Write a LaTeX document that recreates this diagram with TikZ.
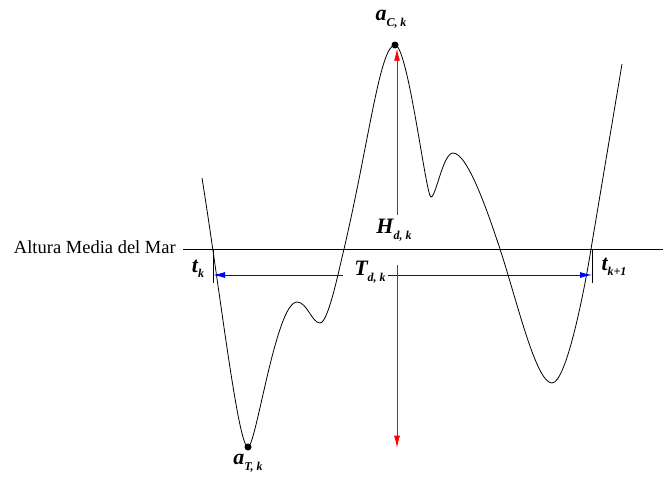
\documentclass[tikz,border=0pt]{standalone}
\usepackage{fontspec}
\setmainfont{Liberation Serif}
\usetikzlibrary{arrows.meta, positioning}
\tikzset{
  wave/.style    = {draw=black, line width=0.8pt},
  mslline/.style = {draw=black, line width=0.8pt},
  tickln/.style  = {draw=black, line width=0.8pt},
  spanarr/.style = {draw=blue, line width=0.8pt,
                     -{Latex[length=12pt, width=6pt]}},
  hgtarr/.style  = {draw=red, line width=0.8pt,
                     -{Latex[length=12pt, width=6pt]}},
  extdot/.style  = {circle, fill=black, inner sep=0pt, minimum size=7pt},
  wavelbl/.style = {inner sep=1pt, font=\bfseries\itshape},
  msltxt/.style  = {inner sep=1pt, font=\fontsize{18.5}{20}\selectfont},
}
\newcommand{\wvar}[2]{{\fontsize{22}{22}\selectfont #1}\raisebox{-5.5pt}{\fontsize{12}{12}\selectfont #2}}

\begin{document}
\begin{tikzpicture}[x=1pt, y=-1pt]
  \useasboundingbox (0,0) rectangle (663,477);
  % mean sea level
  \node[msltxt, anchor=east] (msl) at (177,247) {Altura Media del Mar};
  \coordinate (mslL) at (183,249);
  \coordinate (mslR) at (663,249);
  \draw[mslline] (mslL) -- (mslR);
  % surface elevation
  \draw[wave] (202,178) .. controls (220,290) and (238,447) .. (248,447)
    .. controls (256,447) and (276,302) .. (297,302)
    .. controls (307,302) and (312,323) .. (320,323)
    .. controls (328,323) and (338,274) .. (344,249)
    .. controls (369,142) and (380,45) .. (395,45)
    .. controls (408,45) and (426,197) .. (431,197)
    .. controls (436,197) and (443,153) .. (453,153)
    .. controls (468,153) and (489,216) .. (500,249)
    .. controls (517,301) and (536,383) .. (552,383)
    .. controls (566,383) and (584,293) .. (591,249)
    -- (622,64);
  % zero crossings
  \coordinate (tkA) at (213,249);
  \coordinate (tkB) at (213,283);
  \coordinate (tlA) at (592,249);
  \coordinate (tlB) at (592,283);
  \draw[tickln] (tkA) -- (tkB);
  \draw[tickln] (tlA) -- (tlB);
  % crest and trough
  \node[extdot] (crest) at (395,45) {};
  \node[extdot] (trough) at (248,447) {};
  % labels
  \node[wavelbl] (aC) at (391,19) {\wvar{a}{C, k}};
  \node[wavelbl] (aT) at (248,463) {\wvar{a}{T, k}};
  \node[wavelbl] (Hd) at (394,230) {\wvar{H}{d, k}};
  \node[wavelbl] (Td) at (370,272) {\wvar{T}{d, k}};
  \node[wavelbl] (tk) at (198,269) {\wvar{t}{k}};
  \node[wavelbl] (tl) at (614,267) {\wvar{t}{k+1}};
  % period
  \coordinate (tdL) at (343,275);
  \coordinate (tdR) at (388,275);
  \draw[spanarr] (tdL) -- (tkB |- tdL);
  \draw[spanarr] (tdR) -- (tlB |- tdR);
  % height
  \coordinate (hdU) at (397,215);
  \coordinate (hdD) at (397,265);
  \draw[hgtarr] (hdU) -- (crest.south -| hdU);
  \draw[hgtarr] (hdD) -- ([yshift=3pt]trough.south -| hdD);
\end{tikzpicture}
\end{document}
